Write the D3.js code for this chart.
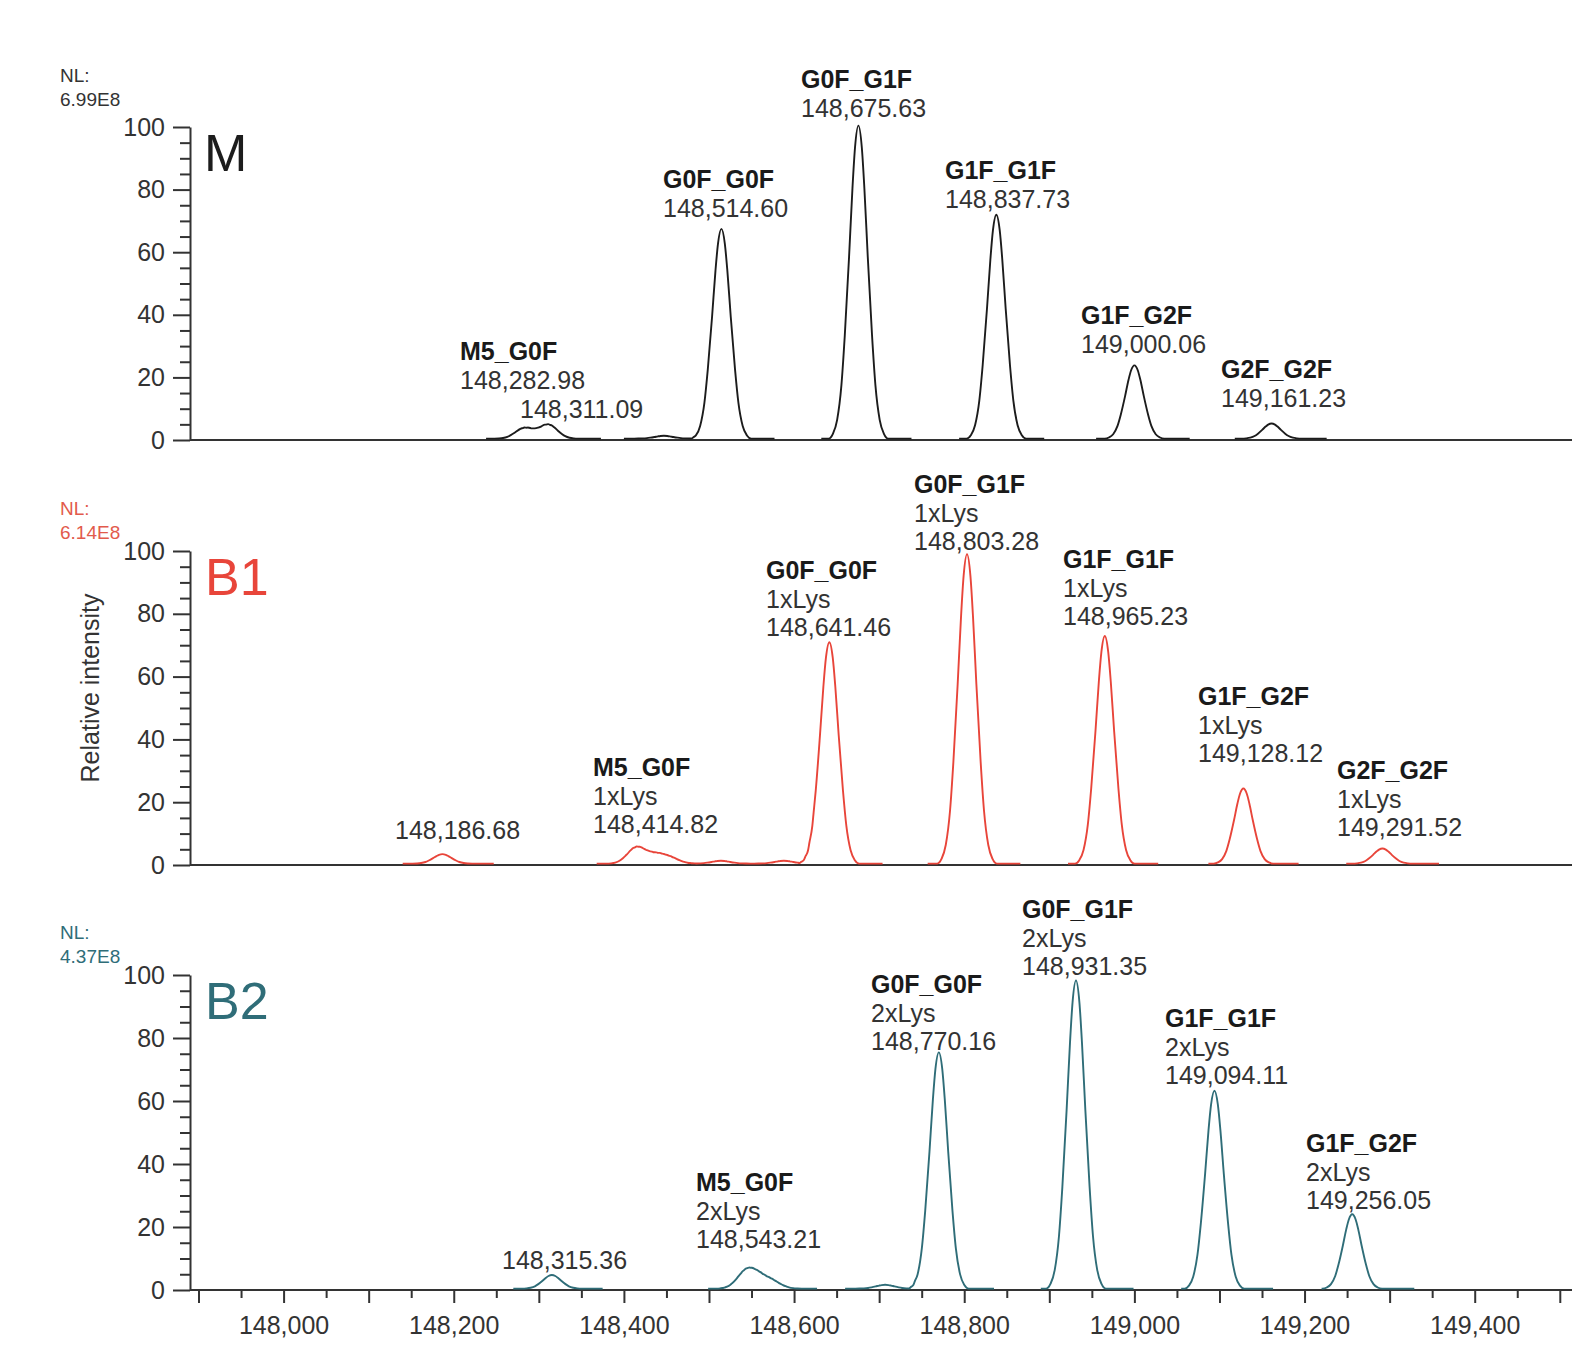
<!DOCTYPE html>
<html>
<head>
<meta charset="utf-8">
<script src="https://cdn.jsdelivr.net/npm/d3@7"></script>
<style>
  body { margin: 0; background: #fff; }
  svg { display: block; font-family: "Liberation Sans", Arial, sans-serif; }
  .axis path, .axis line { stroke: #333; stroke-width: 2; }
  .axis text { font-size: 25px; fill: #333; }
</style>
</head>
<body>
<svg id="chart" width="1572" height="1346"></svg>
<script>
'use strict';

// ---- data ----
const massDomain = [147890, 149512];
const yTickValues = [0, 20, 40, 60, 80, 100];
const xTickValues = [148000, 148200, 148400, 148600, 148800, 149000, 149200, 149400];

// normalised peak profile, read from the M 148,675.63 peak (offset in Da -> fraction of apex)
const shapeOffsets = [-35, -30, -25, -20, -16, -11, -7, -4, 0, 4, 7, 11, 16, 20, 25, 30, 35];
const shapeValues = [0, 0.015, 0.06, 0.17, 0.33, 0.58, 0.8, 0.93, 1, 0.93, 0.8, 0.58, 0.33, 0.17, 0.06, 0.015, 0];

// M
const massM = [148282.98, 148311.09, 148514.60, 148675.63, 148837.73, 149000.06, 149161.23];
const heightM = [3.4, 4.5, 67, 100, 71.5, 23.4, 4.8];
const glycanM = ['M5_G0F', '', 'G0F_G0F', 'G0F_G1F', 'G1F_G1F', 'G1F_G2F', 'G2F_G2F'];
const minorM = [[148447, 0.9]];
const segmentsM = [[148238, 148373], [148400, 148577], [148632, 148738], [148794, 148894], [148955, 149065], [149118, 149226]];

// B1
const massB1 = [148186.68, 148414.82, 148641.46, 148803.28, 148965.23, 149128.12, 149291.52];
const heightB1 = [3.0, 5.2, 70.5, 98.5, 72.5, 23.9, 4.8];
const glycanB1 = ['', 'M5_G0F', 'G0F_G0F', 'G0F_G1F', 'G1F_G1F', 'G1F_G2F', 'G2F_G2F'];
const minorB1 = [[148438, 2.6], [148455, 1.6], [148514, 0.9], [148588, 0.9]];
const segmentsB1 = [[148140, 148247], [148368, 148704], [148757, 148866], [148922, 149028], [149087, 149193], [149249, 149358]];

// B2
const massB2 = [148315.36, 148543.21, 148770.16, 148931.35, 149094.11, 149256.05];
const heightB2 = [4.3, 5.0, 75, 97.8, 62.8, 23.6];
const glycanB2 = ['', 'M5_G0F', 'G0F_G0F', 'G0F_G1F', 'G1F_G1F', 'G1F_G2F'];
const minorB2 = [[148557, 3.0], [148574, 2.2], [148707, 1.2]];
const segmentsB2 = [[148270, 148375], [148499, 148627], [148660, 148835], [148890, 148999], [149055, 149163], [149220, 149329]];

// ---- layout ----
const panels = [
  { name: 'M', nl: '6.99E8', lys: null, color: '#1c1c1c', nlColor: '#333', top: 127, bottom: 440, nlY: [82, 106],
    mass: massM, height: heightM, glycan: glycanM, minor: minorM, segments: segmentsM,
    anchors: [[460, 351], [520, 409], [663, 179], [801, 79], [945, 170], [1081, 315], [1221, 369]] },
  { name: 'B1', nl: '6.14E8', lys: '1xLys', color: '#e8453a', nlColor: '#e25a4c', top: 551, bottom: 865, nlY: [515, 539],
    mass: massB1, height: heightB1, glycan: glycanB1, minor: minorB1, segments: segmentsB1,
    anchors: [[395, 830], [593, 767], [766, 570], [914, 484], [1063, 559], [1198, 696], [1337, 770]] },
  { name: 'B2', nl: '4.37E8', lys: '2xLys', color: '#2f6d78', nlColor: '#2f6d78', top: 975, bottom: 1290, nlY: [939, 963],
    mass: massB2, height: heightB2, glycan: glycanB2, minor: minorB2, segments: segmentsB2,
    anchors: [[502, 1260], [696, 1182], [871, 984], [1022, 909], [1165, 1018], [1306, 1143]] }
];

const svg = d3.select('#chart');
const left = 190, right = 1572;
const x = d3.scaleLinear().domain(massDomain).range([left, 1570]);
const shape = d3.scaleLinear().domain(shapeOffsets).range(shapeValues).clamp(true);
const massFmt = d3.format(',.2f');
const baseLevel = 0.45;

function traceSegments(p) {
  const comps = p.mass.map((m, i) => [m, p.height[i]]).concat(p.minor);
  return p.segments.map(([a, b]) => {
    const inSeg = comps.filter((c) => c[0] > a - 40 && c[0] < b + 40);
    let ms = [a, b];
    inSeg.forEach((c) => shapeOffsets.forEach((o) => {
      const m = c[0] + o;
      if (m > a && m < b) { ms.push(m); }
    }));
    ms = Array.from(new Set(ms)).sort((u, v) => u - v);
    return ms.map((m) => [m, baseLevel + d3.sum(inSeg, (c) => c[1] * shape(m - c[0]))]);
  });
}

panels.forEach((p, pi) => {
  const y = d3.scaleLinear().domain([0, 100]).range([p.bottom, p.top]);
  const g = svg.append('g');

  // baseline
  g.append('line')
    .attr('x1', left).attr('x2', right)
    .attr('y1', p.bottom).attr('y2', p.bottom)
    .attr('stroke', '#333').attr('stroke-width', 2);

  // y axis: minor then major ticks
  const minorTicks = d3.range(5, 100, 5).filter((v) => v % 20 !== 0);
  g.append('g')
    .attr('class', 'axis')
    .attr('transform', 'translate(' + left + ',0)')
    .call(d3.axisLeft(y).tickValues(minorTicks).tickSize(10).tickFormat(''))
    .call((s) => s.select('.domain').remove());
  g.append('g')
    .attr('class', 'axis')
    .attr('transform', 'translate(' + left + ',0)')
    .call(d3.axisLeft(y).tickValues(yTickValues).tickSize(17).tickSizeOuter(0).tickPadding(8));

  // trace
  const line = d3.line()
    .x((d) => x(d[0]))
    .y((d) => y(d[1]))
    .curve(d3.curveMonotoneX);
  g.selectAll('path.trace')
    .data(traceSegments(p))
    .enter()
    .append('path')
    .attr('class', 'trace')
    .attr('d', line)
    .attr('fill', 'none')
    .attr('stroke', p.color)
    .attr('stroke-width', 1.9)
    .attr('stroke-linejoin', 'round');

  // NL
  g.append('text').attr('x', 60).attr('y', p.nlY[0])
    .attr('font-size', 19).attr('fill', p.nlColor).text('NL:');
  g.append('text').attr('x', 60).attr('y', p.nlY[1])
    .attr('font-size', 19).attr('fill', p.nlColor).text(p.nl);

  // panel letter
  g.append('text')
    .attr('x', pi === 0 ? 204 : 205)
    .attr('y', p.top + 44)
    .attr('font-size', 52)
    .attr('fill', p.color)
    .text(p.name);

  // peak annotations
  p.mass.forEach((m, i) => {
    const lines = p.glycan[i]
      ? [p.glycan[i]].concat(p.lys ? [p.lys] : [], [massFmt(m)])
      : [massFmt(m)];
    const [ax, ay] = p.anchors[i];
    const t = g.append('text')
      .attr('x', ax)
      .attr('y', ay + 9)
      .attr('font-size', 25);
    lines.forEach((s, j) => {
      const bold = j === 0 && p.glycan[i];
      t.append('tspan')
        .attr('x', ax)
        .attr('dy', j === 0 ? 0 : 28.7)
        .attr('font-weight', bold ? 'bold' : 'normal')
        .attr('fill', bold ? '#1a1a1a' : '#333')
        .text(s);
    });
  });

  // x axis on the last panel
  if (pi === panels.length - 1) {
    const fmt = d3.format(',');
    g.append('g')
      .attr('class', 'axis')
      .attr('transform', 'translate(0,' + p.bottom + ')')
      .call(d3.axisBottom(x).tickValues(d3.range(147950, 149560, 100)).tickSize(8).tickFormat(''))
      .call((s) => s.select('.domain').remove());
    g.append('g')
      .attr('class', 'axis')
      .attr('transform', 'translate(0,' + p.bottom + ')')
      .call(d3.axisBottom(x).tickValues(d3.range(147900, 149560, 100)).tickSize(13).tickPadding(13)
        .tickFormat((d) => (xTickValues.indexOf(d) >= 0 ? fmt(d) : '')))
      .call((s) => s.select('.domain').remove());
  }
});

// y axis title
svg.append('text')
  .attr('transform', 'translate(90,688) rotate(-90)')
  .attr('text-anchor', 'middle')
  .attr('dominant-baseline', 'central')
  .attr('font-size', 25)
  .attr('fill', '#333')
  .text('Relative intensity');
</script>
</body>
</html>
